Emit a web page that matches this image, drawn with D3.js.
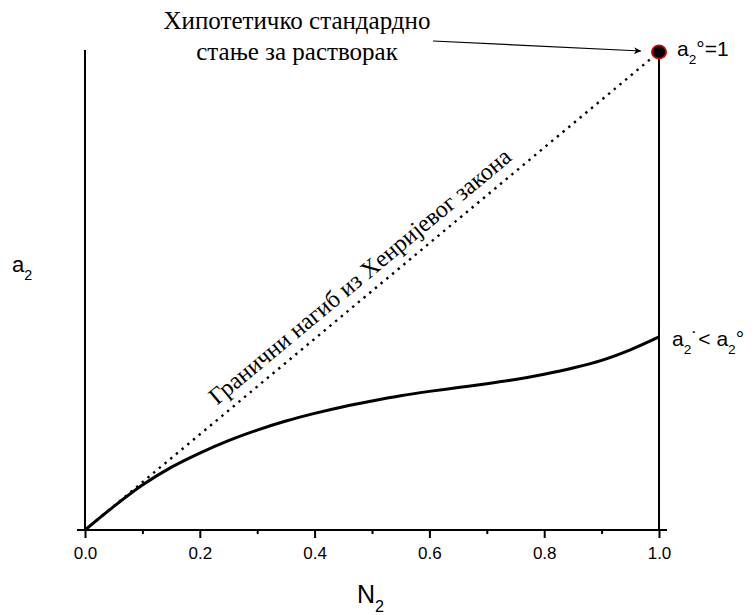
<!DOCTYPE html>
<html>
<head>
<meta charset="utf-8">
<script src="https://cdn.jsdelivr.net/npm/d3@7"></script>
<style>
  body { margin: 0; background: #fff; }
  .serif { font-family: 'Liberation Serif', 'Times New Roman', serif; }
  .sans { font-family: 'Liberation Sans', Arial, sans-serif; }
</style>
</head>
<body>
<script>
// Data
const nValues = [0, 0.05, 0.1, 0.15, 0.2, 0.25, 0.3, 0.35, 0.4, 0.45, 0.5,
  0.55, 0.6, 0.65, 0.7, 0.75, 0.8, 0.85, 0.9, 0.95, 1.0]
const aValues = [0, 0.049, 0.094, 0.131, 0.161, 0.187, 0.209, 0.228, 0.244, 0.258, 0.270,
  0.281, 0.290, 0.298, 0.306, 0.315, 0.326, 0.339, 0.355, 0.377, 0.404]
const henryLine = [[0, 0], [1, 1]]
const standardPoint = [1, 1]
const majorTicks = [0, 0.2, 0.4, 0.6, 0.8, 1.0]
const minorTicks = [0.1, 0.3, 0.5, 0.7, 0.9]

const width = 756
const height = 615

const svg = d3.select('body')
  .append('svg')
  .attr('width', width)
  .attr('height', height)

svg.append('defs')
  .append('marker')
  .attr('id', 'arrow')
  .attr('viewBox', '0 0 10 10')
  .attr('refX', 10)
  .attr('refY', 5)
  .attr('markerWidth', 11)
  .attr('markerHeight', 7)
  .attr('markerUnits', 'userSpaceOnUse')
  .attr('orient', 'auto')
  .append('path')
  .attr('d', 'M0,0 L10,5 L0,10 L3,5 Z')
  .attr('fill', '#000')

// Scales
const xScale = d3.scaleLinear().domain([0, 1]).range([85, 659])
const yScale = d3.scaleLinear().domain([0, 1]).range([530, 52])

// X axis
const xAxis = d3.axisBottom(xScale)
  .tickValues(majorTicks)
  .tickFormat(d3.format('.1f'))
  .tickSize(8)
  .tickPadding(9)
const gx = svg.append('g')
  .attr('transform', `translate(0, ${yScale(0)})`)
  .call(xAxis)
gx.select('.domain').remove()
gx.selectAll('.tick line').attr('stroke-width', 2)
gx.selectAll('.tick text')
  .attr('class', 'sans')
  .style('font-size', '17px')
  .attr('fill', '#000')

const xMinor = d3.axisBottom(xScale)
  .tickValues(minorTicks)
  .tickFormat('')
  .tickSize(4)
const gm = svg.append('g')
  .attr('transform', `translate(0, ${yScale(0)})`)
  .call(xMinor)
gm.select('.domain').remove()
gm.selectAll('.tick line').attr('stroke-width', 2)

// Axis line, slightly longer than the data range
svg.append('line')
  .attr('x1', xScale(-0.014))
  .attr('x2', xScale(1.014))
  .attr('y1', yScale(0))
  .attr('y2', yScale(0))
  .attr('stroke', '#000')
  .attr('stroke-width', 2)

// Vertical lines at N2 = 0 and N2 = 1
svg.selectAll('.vline')
  .data([0, 1])
  .enter()
  .append('line')
  .attr('class', 'vline')
  .attr('x1', d => xScale(d))
  .attr('x2', d => xScale(d))
  .attr('y1', yScale(0))
  .attr('y2', d => d === 0 ? yScale(1.004) : yScale(1))
  .attr('stroke', '#000')
  .attr('stroke-width', 2)

// Henry's law limiting slope (dotted)
svg.append('path')
  .datum(henryLine)
  .attr('d', d3.line().x(d => xScale(d[0])).y(d => yScale(d[1])))
  .attr('fill', 'none')
  .attr('stroke', '#000')
  .attr('stroke-width', 2.4)
  .attr('stroke-dasharray', '2.4,5')

// Activity curve
const curveData = nValues.map((n, i) => [n, aValues[i]])
svg.append('path')
  .datum(curveData)
  .attr('d', d3.line()
    .x(d => xScale(d[0]))
    .y(d => yScale(d[1]))
    .curve(d3.curveCatmullRom))
  .attr('fill', 'none')
  .attr('stroke', '#000')
  .attr('stroke-width', 3)

// Hypothetical standard state point
svg.append('ellipse')
  .attr('cx', xScale(standardPoint[0]))
  .attr('cy', yScale(standardPoint[1]))
  .attr('rx', 7.2)
  .attr('ry', 6.6)
  .attr('fill', '#000')
  .attr('stroke', '#e00000')
  .attr('stroke-width', 1.6)

// Annotation text + arrow
const note = svg.append('text')
  .attr('class', 'serif')
  .attr('text-anchor', 'middle')
  .style('font-size', '25px')
  .attr('fill', '#000')
note.append('tspan').attr('x', 297).attr('y', 29).text('Хипотетичко стандардно')
note.append('tspan').attr('x', 297).attr('y', 60).text('стање за растворак')

svg.append('line')
  .attr('x1', 433)
  .attr('y1', 41)
  .attr('x2', xScale(standardPoint[0]) - 18)
  .attr('y2', yScale(standardPoint[1]) - 1)
  .attr('stroke', '#000')
  .attr('stroke-width', 1.2)
  .attr('marker-end', 'url(#arrow)')

// Rotated label along the dotted line
const angle = Math.atan2(yScale(1) - yScale(0), xScale(1) - xScale(0)) * 180 / Math.PI
const mid = 0.5
svg.append('text')
  .attr('class', 'serif')
  .attr('text-anchor', 'middle')
  .style('font-size', '24px')
  .attr('fill', '#000')
  .attr('transform', `translate(${xScale(mid)}, ${yScale(mid)}) rotate(${angle}) translate(0, -11)`)
  .text('Гранични нагиб из Хенријевог закона')

// Helper for a with subscript labels
function subLabel(x, y, size, parts) {
  const t = svg.append('text')
    .attr('class', 'sans')
    .attr('x', x)
    .attr('y', y)
    .style('font-size', size + 'px')
    .attr('fill', '#000')
  parts.forEach(p => {
    const s = t.append('tspan').text(p.text)
    if (p.sub) s.style('font-size', (size * 0.65) + 'px').attr('dy', p.dy)
    else if (p.dy) s.attr('dy', p.dy)
  })
  return t
}

// y label
subLabel(12, 272, 22, [
  { text: 'a' },
  { text: '2', sub: true, dy: 8 }
])

// x label
subLabel(357, 603, 25, [
  { text: 'N' },
  { text: '2', sub: true, dy: 9 }
])

// a2° = 1
subLabel(677, 56, 21, [
  { text: 'a' },
  { text: '2', sub: true, dy: 8 },
  { text: '°=1', dy: -8 }
])

// a2· < a2°
subLabel(672, 346, 21, [
  { text: 'a' },
  { text: '2', sub: true, dy: 8 },
  { text: '˙', dy: -8 },
  { text: '< a' },
  { text: '2', sub: true, dy: 8 },
  { text: '°', dy: -8 }
])
</script>
</body>
</html>
